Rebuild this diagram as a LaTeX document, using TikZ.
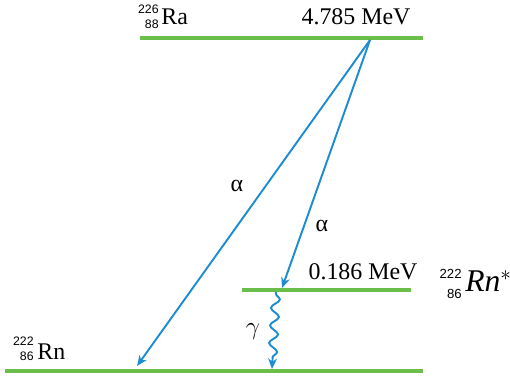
\documentclass[tikz,border=0pt]{standalone}
\usepackage{fontspec}
\setmainfont{Liberation Serif}
\newfontfamily\numfont{Liberation Sans}
\usepackage{tikz}
\usetikzlibrary{arrows.meta, positioning, decorations.pathmorphing}
\definecolor{cLevel}{RGB}{108,190,75}
\definecolor{cDecay}{RGB}{30,140,210}
\tikzset{
  level/.style={line width=2.3pt, color=cLevel},
  decayarrow/.style={-{Stealth[length=6pt,width=5pt]}, line width=1.1pt, color=cDecay},
  gammaarrow/.style={decayarrow, decorate,
                     decoration={snake, amplitude=2.4pt, segment length=10pt,
                                 pre length=1pt, post length=5pt}},
  lbl/.style={inner sep=0pt, font=\fontsize{13.6}{15}\selectfont},
  nucnum/.style={inner sep=0pt, align=right, font=\numfont\fontsize{7}{8.6}\selectfont}
}
\begin{document}
\begin{tikzpicture}[x=0.02cm, y=-0.02cm]
  \useasboundingbox (0,0) rectangle (510,376);
  % energy levels
  \coordinate (ra_l) at (140,38);
  \coordinate (ra_r) at (423,38);
  \coordinate (rnx_l) at (242,290);
  \coordinate (rnx_r) at (411,290);
  \coordinate (rn_l) at (5,371);
  \coordinate (rn_r) at (423,371);
  \draw[level] (ra_l) -- (ra_r);
  \draw[level] (rnx_l) -- (rnx_r);
  \draw[level] (rn_l) -- (rn_r);

  % labels
  \node[nucnum, anchor=east] (ra_n) at (159,17) {226\\88};
  \node[lbl, anchor=west] (ra) at (161,17) {Ra};
  \node[lbl] (e_top) at (356,17) {4.785 MeV};
  \node[lbl] (e_mid) at (363,272) {0.186 MeV};
  \node[nucnum, anchor=east, font=\numfont\fontsize{7.5}{11.5}\selectfont] (rnx_n) at (462,284) {222\\86};
  \node[lbl, anchor=west, font=\fontsize{18}{20}\selectfont] (rnx) at (465,281) {\itshape Rn$^{*}$};
  \node[nucnum, anchor=east] (rn_n) at (34,349) {222\\86};
  \node[lbl, anchor=west] (rn) at (37,352) {Rn};

  % transitions
  \coordinate (src) at (370,40);
  \coordinate (tip1) at (137,366);
  \coordinate (tip2) at (282,288);
  \coordinate (g_top) at (276,292);
  \coordinate (g_bot) at (272,369);
  \draw[decayarrow] (src) -- (tip1);
  \draw[decayarrow] (src) -- (tip2);
  \draw[gammaarrow] (g_top) -- (g_bot);

  \node[lbl] (a1) at (237,186) {α};
  \node[lbl] (a2) at (322,226) {α};
  \node[lbl] (g) at (253,332) {$\gamma$};
\end{tikzpicture}
\end{document}
